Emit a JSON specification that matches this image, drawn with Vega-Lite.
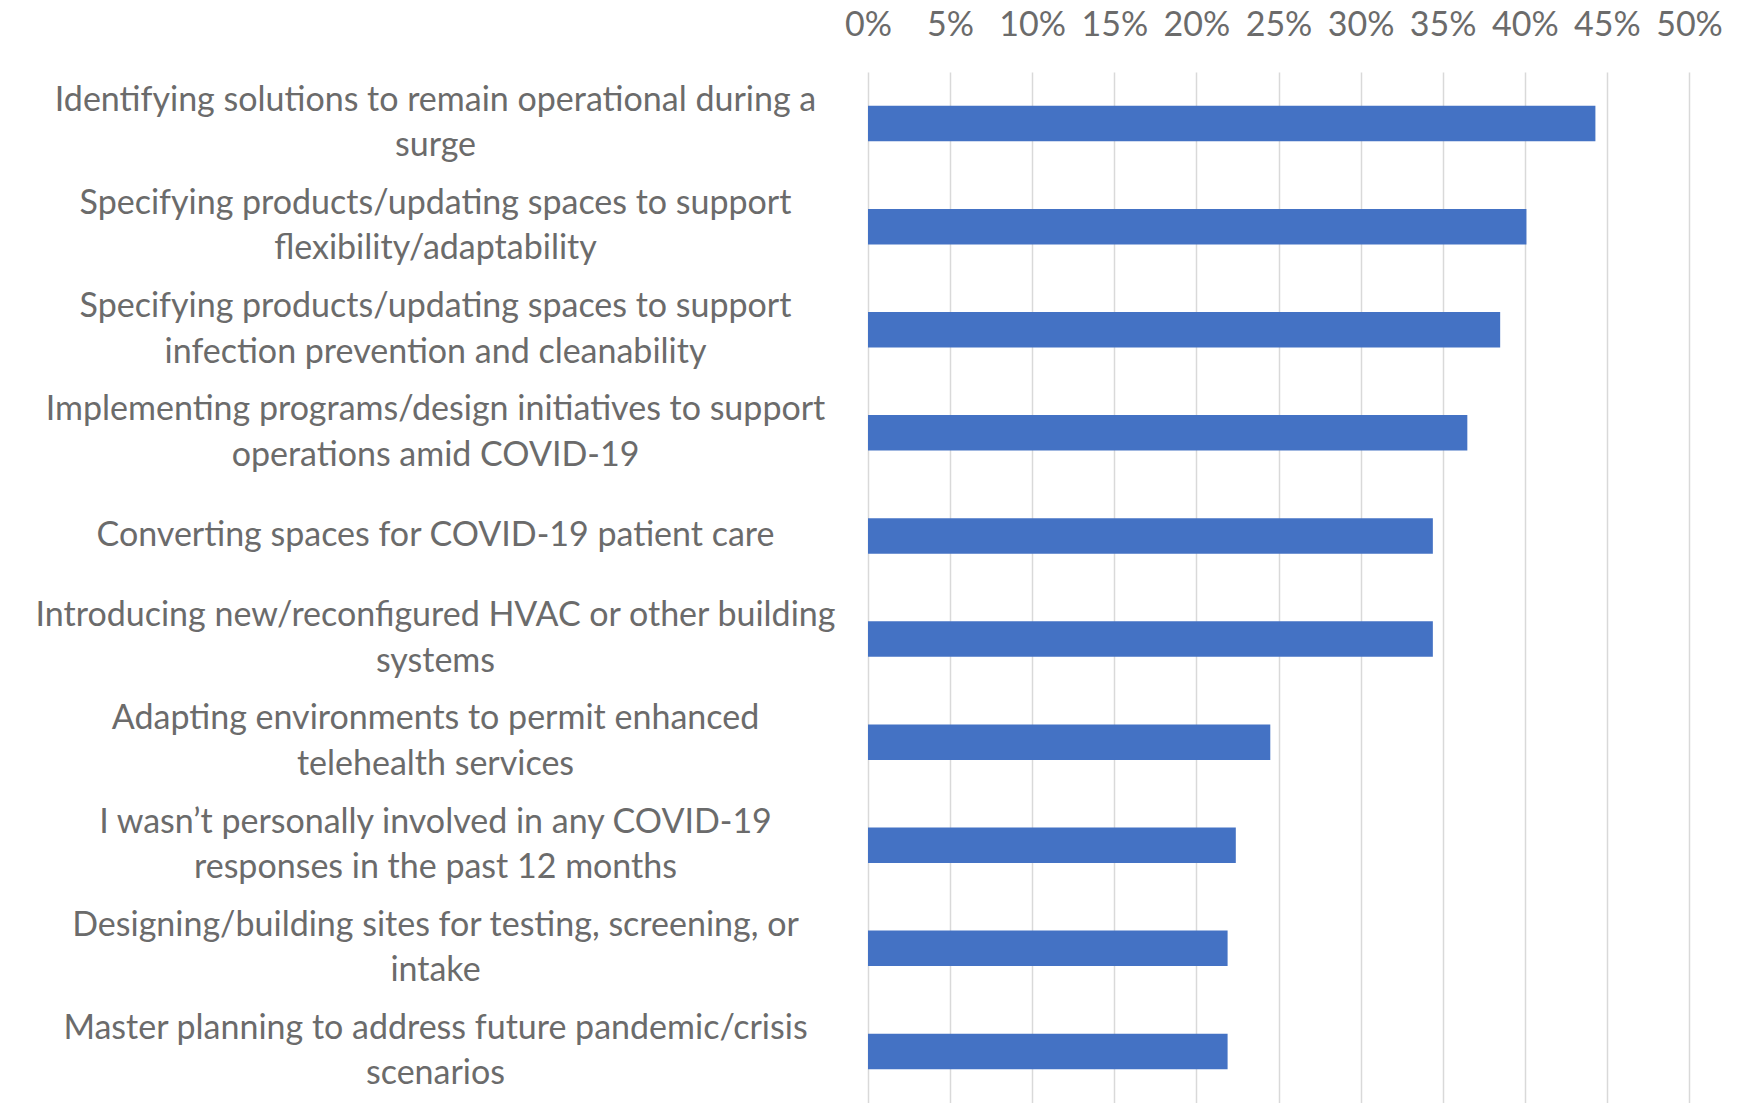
{
  "$schema": "https://vega.github.io/schema/vega-lite/v6.json",
  "autosize": {"type": "none"},
  "padding": {"left": 868, "top": 72, "right": 52, "bottom": 0},
  "width": 821,
  "height": 1031,
  "background": "white",
  "data": {
    "values": [
      {"label": "Identifying solutions to remain operational during a|surge", "share": 0.443},
      {"label": "Specifying products/updating spaces to support|flexibility/adaptability", "share": 0.401},
      {"label": "Specifying products/updating spaces to support|infection prevention and cleanability", "share": 0.385},
      {"label": "Implementing programs/design initiatives to support|operations amid COVID-19", "share": 0.365},
      {"label": "Converting spaces for COVID-19 patient care", "share": 0.344},
      {"label": "Introducing new/reconfigured HVAC or other building|systems", "share": 0.344},
      {"label": "Adapting environments to permit enhanced|telehealth services", "share": 0.245},
      {"label": "I wasn’t personally involved in any COVID-19|responses in the past 12 months", "share": 0.224},
      {"label": "Designing/building sites for testing, screening, or|intake", "share": 0.219},
      {"label": "Master planning to address future pandemic/crisis|scenarios", "share": 0.219}
    ]
  },
  "mark": {"type": "bar", "color": "#4472C4"},
  "encoding": {
    "y": {
      "field": "label",
      "type": "nominal",
      "sort": null,
      "scale": {"paddingInner": 0.656, "paddingOuter": 0.328},
      "axis": {
        "title": null,
        "domain": false,
        "ticks": false,
        "grid": false,
        "labelExpr": "split(datum.label, '|')",
        "labelAlign": "center",
        "labelBaseline": "middle",
        "labelOffset": {"condition": {"test": "indexof(datum.value, '|') >= 0", "value": -22.75}, "value": 0},
        "labelPadding": 433,
        "labelLimit": 2000,
        "labelFont": "Lato",
        "labelFontSize": 34,
        "labelLineHeight": 45.5,
        "labelColor": "#6b6b6b"
      }
    },
    "x": {
      "field": "share",
      "type": "quantitative",
      "scale": {"domain": [0, 0.5], "nice": false},
      "axis": {
        "orient": "top",
        "title": null,
        "format": ".0%",
        "values": [0, 0.05, 0.1, 0.15, 0.2, 0.25, 0.3, 0.35, 0.4, 0.45, 0.5],
        "domain": false,
        "ticks": false,
        "grid": true,
        "gridColor": "#d9d9d9",
        "gridWidth": 1.5,
        "labelFont": "Lato",
        "labelFontSize": 34,
        "labelColor": "#6b6b6b",
        "labelBaseline": "alphabetic",
        "labelPadding": 37,
        "labelFlush": false
      }
    }
  },
  "config": {"view": {"stroke": null}}
}
